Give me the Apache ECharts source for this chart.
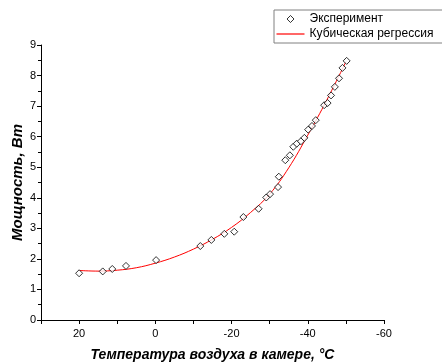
<!DOCTYPE html>
<html lang="ru" style="height: 100%">
<head>
<meta charset="utf-8">
<title>Мощность от температуры</title>
</head>
<body style="height: 100%; margin: 0; background: #fff">
<div id="container" style="width: 442px; height: 363px"></div>

<script type="text/javascript" src="https://cdn.jsdelivr.net/npm/echarts@6/dist/echarts.min.js"></script>

<script type="text/javascript">

var dom = document.getElementById('container');
var myChart = echarts.init(dom, null, { renderer: 'canvas' });

// Experiment points (temperature, power)
var expTemp = [20, 13.8, 11.3, 7.7, -0.2, -11.8, -14.7, -18.1, -20.7, -23.1, -27.1, -29.1, -30.1,
    -32.2, -32.4, -34.1, -35.3, -36.2, -37.1, -38.2, -39.1, -40.1, -41.1, -42.1, -44.3, -45.2,
    -46.1, -47.1, -48.2, -49.1, -50.2];
var expPower = [1.53, 1.59, 1.67, 1.77, 1.96, 2.42, 2.62, 2.82, 2.89, 3.37, 3.64, 4.01, 4.12,
    4.35, 4.69, 5.23, 5.39, 5.67, 5.77, 5.85, 5.96, 6.23, 6.35, 6.54, 7.03, 7.10,
    7.35, 7.63, 7.91, 8.25, 8.48];

// Regression curve
var fitTemp = [20, 15, 10, 5, 0, -5, -10, -15, -20, -25, -30, -35, -40, -45, -50];
var fitPower = [1.62, 1.60, 1.63, 1.71, 1.86, 2.06, 2.32, 2.64, 3.03, 3.52, 4.12, 4.98, 6.05, 7.2, 8.45];

var xTicks = [20, 0, -20, -40, -60];

var expData = expTemp.map(function (t, i) { return [t, expPower[i]]; });
var fitData = fitTemp.map(function (t, i) { return [t, fitPower[i]]; });

var font = 'Liberation Sans, Arial, sans-serif';

// legend icons: small diamond centred in the 28px slot, thin line across it
var diamondIcon = 'path://M0,0 M28,7 M14,0 L17.5,3.5 L14,7 L10.5,3.5 Z';
var lineIcon = 'path://M0,3 L28,3 L28,4.2 L0,4.2 Z';

var option = {
    animation: false,
    backgroundColor: '#fff',
    textStyle: { fontFamily: font, color: '#000' },
    grid: { left: 41, right: 58, top: 45, bottom: 43, containLabel: false, outerBoundsMode: 'none' },
    legend: {
        orient: 'vertical',
        left: 274,
        top: 10,
        padding: [2, 14, 2, 2],   // box runs off the right edge like the original
        itemGap: 1,
        itemWidth: 28,
        itemHeight: 7,
        symbolKeepAspect: true,
        borderColor: '#808080',
        borderWidth: 1,
        borderRadius: 0,
        textStyle: { fontFamily: font, fontSize: 12, color: '#000', lineHeight: 14 },
        data: [
            { name: 'Эксперимент', icon: diamondIcon,
              itemStyle: { color: '#fff', borderColor: '#000', borderWidth: 1 } },
            { name: 'Кубическая регрессия', icon: lineIcon,
              itemStyle: { color: '#ff0000', borderWidth: 0 } }
        ]
    },
    xAxis: {
        type: 'value',
        inverse: true,
        min: -60,
        max: 30,
        interval: 10,
        name: 'Температура воздуха в камере, °C',
        nameLocation: 'middle',
        nameGap: 28,
        nameTextStyle: { fontFamily: font, fontSize: 14, fontWeight: 'bold', fontStyle: 'italic', color: '#000' },
        axisLine: { onZero: false, lineStyle: { color: '#000', width: 1 } },
        axisTick: { length: 4, lineStyle: { color: '#000' } },
        axisLabel: {
            fontSize: 11,
            color: '#000',
            margin: 8,
            formatter: function (v) { return xTicks.indexOf(v) >= 0 ? String(v) : ''; }
        },
        splitLine: { show: false }
    },
    yAxis: {
        type: 'value',
        min: 0,
        max: 9,
        interval: 1,
        name: 'Мощность, Вт',
        nameLocation: 'middle',
        nameGap: 16,
        nameMoveOverlap: false,
        nameTextStyle: { fontFamily: font, fontSize: 15, fontWeight: 'bold', fontStyle: 'italic', color: '#000' },
        axisLine: { show: true, onZero: false, lineStyle: { color: '#000', width: 1 } },
        axisTick: { show: true, length: 4, lineStyle: { color: '#000' } },
        minorTick: { show: true, splitNumber: 2, length: 3, lineStyle: { color: '#000' } },
        axisLabel: { fontSize: 11, color: '#000', margin: 5 },
        splitLine: { show: false }
    },
    series: [
        {
            name: 'Кубическая регрессия',
            type: 'line',
            data: fitData,
            smooth: 0.4,
            symbol: 'none',
            lineStyle: { color: '#ff0000', width: 1 },
            itemStyle: { color: '#ff0000' },
            z: 1
        },
        {
            name: 'Эксперимент',
            type: 'scatter',
            data: expData,
            symbol: 'diamond',
            symbolSize: 7,
            itemStyle: { color: '#fff', borderColor: '#000', borderWidth: 1 },
            z: 2
        }
    ]
};

myChart.setOption(option);
window.addEventListener('resize', myChart.resize);
</script>
</body>
</html>
